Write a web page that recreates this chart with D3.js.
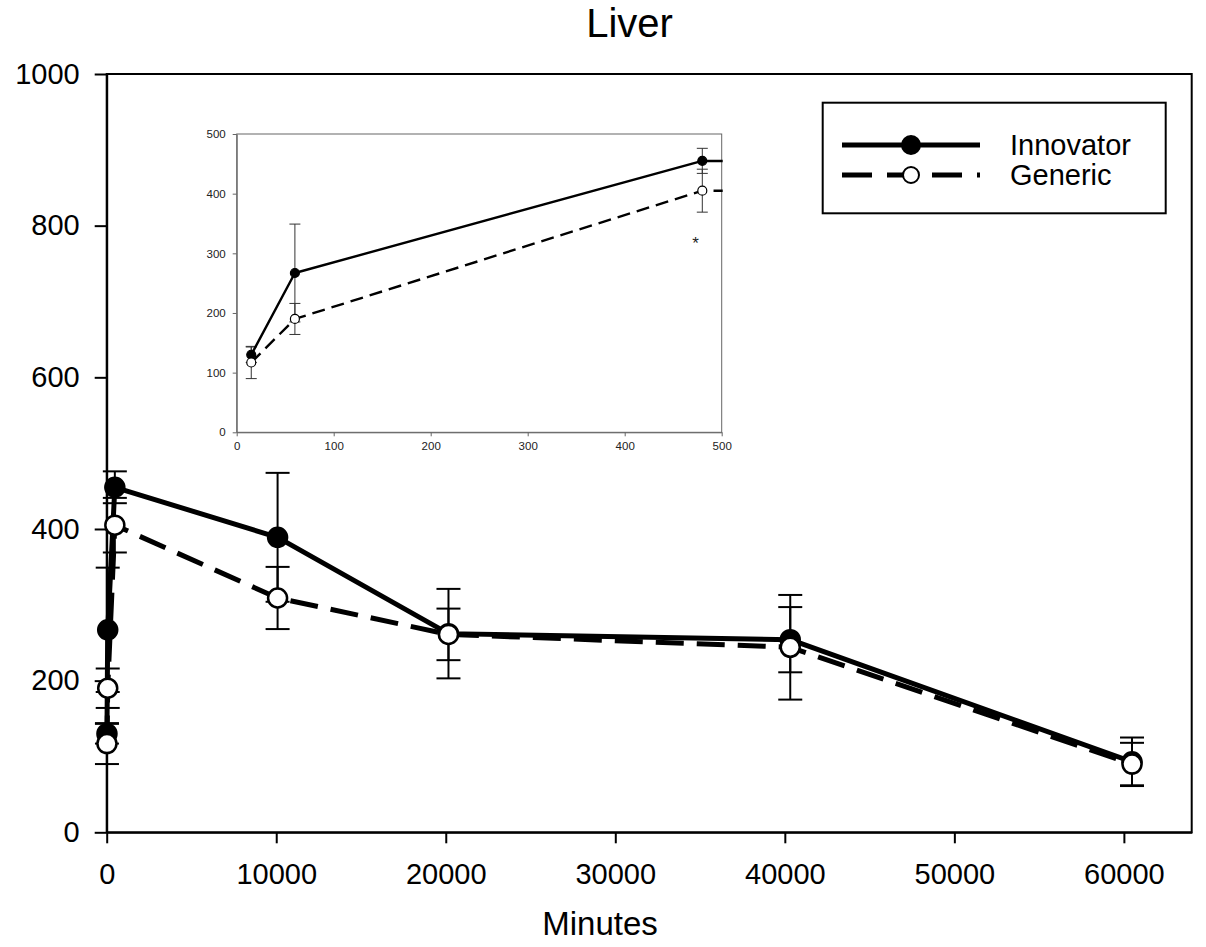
<!DOCTYPE html>
<html>
<head>
<meta charset="utf-8">
<script src="https://cdn.jsdelivr.net/npm/d3@7"></script>
<style>
  body { margin: 0; background: #fff; }
  svg { display: block; font-family: "Liberation Sans", Arial, sans-serif; }
</style>
</head>
<body>
<div id="chart"></div>
<script>
// sampling times (minutes) and concentrations
var minutes = [15, 60, 480, 10080, 20160, 40320, 60480]
var innovator = [130, 267, 455, 389, 262, 254, 93]
var innovatorErr = [13, 82, 21, 85, 59, 43, 32]
var generic = [117, 190, 405, 309, 261, 244, 90]
var genericErr = [27, 26, 36, 41, 34, 69, 28]

var xTicks = [0, 10000, 20000, 30000, 40000, 50000, 60000]
var yTicks = [0, 200, 400, 600, 800, 1000]
var insetTicks = [0, 100, 200, 300, 400, 500]
var seriesNames = ["Innovator", "Generic"]

var w = 1206, h = 947

var svg = d3.select("#chart").append("svg")
  .attr("width", w)
  .attr("height", h)

var x = d3.scaleLinear().domain([0, 64000]).range([106.7, 1191.7])
var y = d3.scaleLinear().domain([0, 1000]).range([832.3, 74])

var series = [
  {name: seriesNames[0], vals: innovator, err: innovatorErr, filled: true},
  {name: seriesNames[1], vals: generic, err: genericErr, filled: false}
]

// title
svg.append("text")
  .attr("x", 629.5).attr("y", 37)
  .attr("text-anchor", "middle")
  .attr("font-size", 40)
  .text("Liver")

// frame
svg.append("rect")
  .attr("x", x(0)).attr("y", y(1000))
  .attr("width", x(64000) - x(0)).attr("height", y(0) - y(1000))
  .attr("fill", "none").attr("stroke", "#000").attr("stroke-width", 2)

var xAxis = svg.append("g")
  .attr("transform", "translate(0," + y(0) + ")")
  .call(d3.axisBottom(x).tickValues(xTicks).tickSize(11).tickSizeOuter(0).tickPadding(20).tickFormat(d3.format("d")))
var yAxis = svg.append("g")
  .attr("transform", "translate(" + x(0) + ",0)")
  .call(d3.axisLeft(y).tickValues(yTicks).tickSize(12).tickSizeOuter(0).tickPadding(15).tickFormat(d3.format("d")))

;[xAxis, yAxis].forEach(function(g){
  g.selectAll("path, line").attr("stroke", "#000").attr("stroke-width", 2)
  g.selectAll("text").attr("font-size", 29).attr("fill", "#000").attr("font-family", "Liberation Sans, Arial, sans-serif")
})

svg.append("text")
  .attr("x", 600).attr("y", 935)
  .attr("text-anchor", "middle")
  .attr("font-size", 33)
  .text("Minutes")

function drawSeries(g, xs, ys, opt) {
  var line = d3.line()
    .x(function(d, i){ return xs(minutes[i]) })
    .y(function(d){ return ys(d) })

  // error bars
  series.forEach(function(s){
    var eb = g.append("g")
    minutes.forEach(function(m, i){
      var cx = xs(m)
      var hi = ys(s.vals[i] + s.err[i]), lo = ys(s.vals[i] - s.err[i])
      eb.append("line").attr("x1", cx).attr("x2", cx).attr("y1", hi).attr("y2", lo)
      eb.append("line").attr("x1", cx - opt.cap).attr("x2", cx + opt.cap).attr("y1", hi).attr("y2", hi)
      eb.append("line").attr("x1", cx - opt.cap).attr("x2", cx + opt.cap).attr("y1", lo).attr("y2", lo)
    })
    eb.selectAll("line").attr("stroke", opt.errColor).attr("stroke-width", opt.errWidth)
  })

  series.forEach(function(s){
    g.append("path")
      .attr("d", line(s.vals))
      .attr("fill", "none")
      .attr("stroke", "#000")
      .attr("stroke-width", opt.lineWidth)
      .attr("stroke-linejoin", "round")
      .attr("stroke-dasharray", s.filled ? null : opt.dash)
  })

  series.forEach(function(s){
    g.selectAll(null).data(s.vals).enter().append("circle")
      .attr("cx", function(d, i){ return xs(minutes[i]) })
      .attr("cy", function(d){ return ys(d) })
      .attr("r", opt.r)
      .attr("fill", s.filled ? "#000" : "#fff")
      .attr("stroke", "#000")
      .attr("stroke-width", opt.markerStroke)
  })
}

// main data
drawSeries(svg.append("g"), x, y, {cap: 12, errWidth: 2, errColor: "#000", lineWidth: 5, dash: "28,13", r: 9.5, markerStroke: 2.5})

// legend
var lg = svg.append("g")
lg.append("rect")
  .attr("x", 822.7).attr("y", 102.7).attr("width", 343).attr("height", 110.6)
  .attr("fill", "#fff").attr("stroke", "#000").attr("stroke-width", 2)
series.forEach(function(s, i){
  var ly = 145 + i * 30
  lg.append("line")
    .attr("x1", 842).attr("x2", 980).attr("y1", ly).attr("y2", ly)
    .attr("stroke", "#000").attr("stroke-width", 5)
    .attr("stroke-dasharray", s.filled ? null : "30,15")
  lg.append("circle")
    .attr("cx", 911).attr("cy", ly).attr("r", s.filled ? 9 : 8)
    .attr("fill", s.filled ? "#000" : "#fff")
    .attr("stroke", "#000").attr("stroke-width", 2)
  lg.append("text")
    .attr("x", 1010).attr("y", ly)
    .attr("dy", "0.35em")
    .attr("font-size", 29)
    .text(s.name)
})

// inset: first 500 minutes
var ix = d3.scaleLinear().domain([0, 500]).range([236.7, 721.7])
var iy = d3.scaleLinear().domain([0, 500]).range([432.3, 134])

var inset = svg.append("g")
inset.append("rect")
  .attr("x", ix(0)).attr("y", iy(500))
  .attr("width", ix(500) - ix(0)).attr("height", iy(0) - iy(500))
  .attr("fill", "#fff").attr("stroke", "#666").attr("stroke-width", 1)

svg.append("clipPath").attr("id", "insetClip")
  .append("rect")
  .attr("x", ix(0)).attr("y", iy(500) - 10)
  .attr("width", ix(500) - ix(0) + 1).attr("height", iy(0) - iy(500) + 10)

var ixAxis = inset.append("g")
  .attr("transform", "translate(0," + iy(0) + ")")
  .call(d3.axisBottom(ix).tickValues(insetTicks).tickSize(4).tickSizeOuter(0).tickPadding(6))
var iyAxis = inset.append("g")
  .attr("transform", "translate(" + ix(0) + ",0)")
  .call(d3.axisLeft(iy).tickValues(insetTicks).tickSize(4).tickSizeOuter(0).tickPadding(7))
;[ixAxis, iyAxis].forEach(function(g){
  g.selectAll("path, line").attr("stroke", "#666").attr("stroke-width", 1)
  g.selectAll("text").attr("font-size", 11.5).attr("fill", "#222").attr("font-family", "Liberation Sans, Arial, sans-serif")
})

drawSeries(inset.append("g").attr("clip-path", "url(#insetClip)"), ix, iy,
  {cap: 5.5, errWidth: 1, errColor: "#333", lineWidth: 2.4, dash: "13,7", r: 4.5, markerStroke: 1.2})

inset.append("text")
  .attr("x", ix(473)).attr("y", iy(328))
  .attr("text-anchor", "middle")
  .attr("dy", "0.75em")
  .attr("font-size", 17)
  .attr("fill", "#222")
  .text("*")
</script>
</body>
</html>
